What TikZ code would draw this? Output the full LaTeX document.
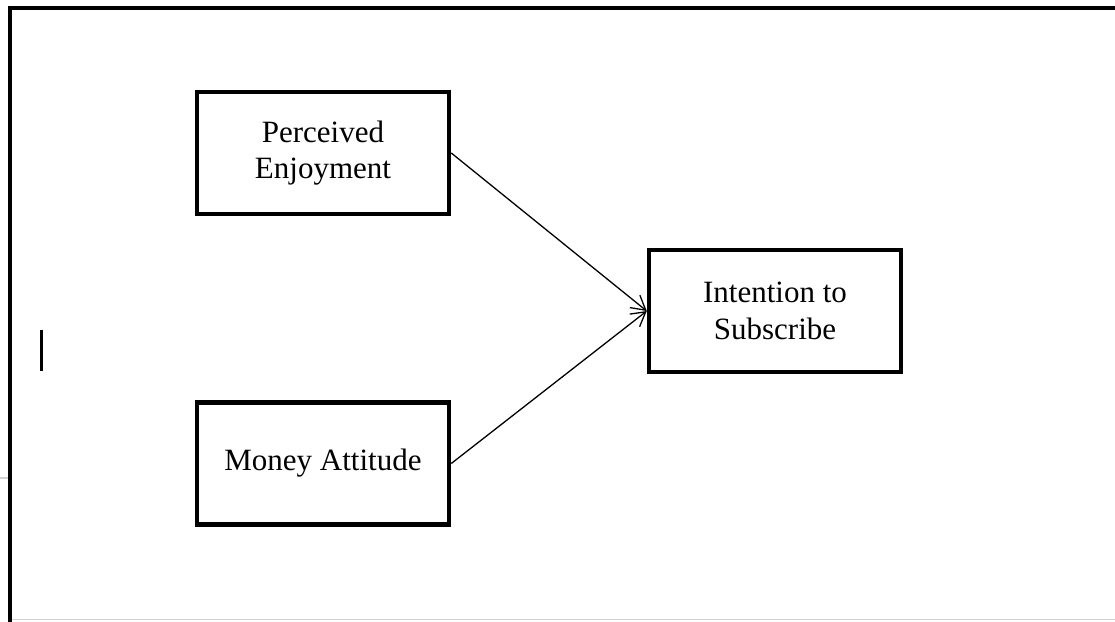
\documentclass[tikz,border=0pt]{standalone}
\usepackage{fontspec}
\setmainfont{Liberation Serif}
\usetikzlibrary{arrows.meta}
\tikzset{
  box/.style={draw, line width=4.5pt, minimum width=252pt, minimum height=122pt, align=center, font=\fontsize{31}{36.5}\selectfont, inner sep=0pt},
  conn/.style={line width=1.3pt, -{Straight Barb[length=14pt,width=16pt,line width=1.3pt]}}
}
\begin{document}
\begin{tikzpicture}[x=1pt,y=-1pt]
\useasboundingbox (0,0) rectangle (1115,621);
\clip (0,0) rectangle (1115,621);
\fill[white] (0,0) rectangle (1115,621);
% page artifacts
\draw[gray!35, line width=1.5pt] (10,619.5) -- (1115,619.5);
\draw[gray!35, line width=1.5pt] (0,478) -- (8,478);
% outer frame (cut off at right and bottom)
\draw[line width=4pt] (9.5,640) -- (9.5,7.5) -- (1130,7.5);
% text cursor
\draw[line width=3pt] (41.5,330) -- (41.5,371);
% nodes
\node[box] (pe) at (323,153) {Perceived\\Enjoyment};
\node[box] (ma) at (323,463.5) {Money Attitude};
\node[box] (is) at (775,311) {Intention to\\Subscribe};
% connectors
\draw[conn] (pe.east) -- (is.west);
\draw[conn] (ma.east) -- (is.west);
\end{tikzpicture}
\end{document}
